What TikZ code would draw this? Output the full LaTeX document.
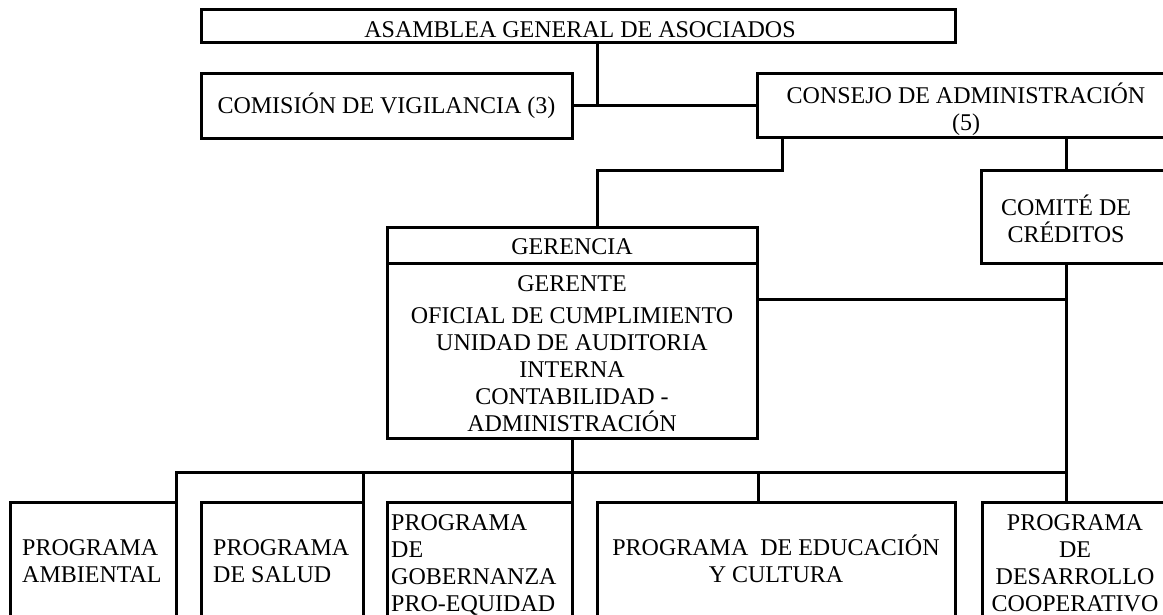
\documentclass[tikz,border=0pt]{standalone}
\usepackage{fontspec}
\setmainfont{Liberation Serif}
\newcommand\orgfont{\fontsize{24}{27}\selectfont}
\newcommand\orgfontb{\fontsize{24}{27}\selectfont}
\begin{document}
\begin{tikzpicture}[x=1pt,y=-1pt,
  box/.style={draw=black, line width=3pt, inner sep=0pt, outer sep=0pt, rectangle},
  conn/.style={draw=black, line width=3pt, line join=miter},
  txt/.style={inner sep=0pt, align=center, font=\orgfont},
  txtb/.style={inner sep=0pt, align=center, font=\orgfontb},
  txtl/.style={inner sep=0pt, align=left, font=\orgfontb}]
\useasboundingbox (0,0) rectangle (1163,614);
\fill[white] (0,0) rectangle (1163,614);
\clip (0,0) rectangle (1163,614);

% boxes
\node[box, minimum width=754pt, minimum height=33pt] (asamblea) at (578,25.5) {};
\node[box, minimum width=371pt, minimum height=65pt] (comision) at (386.5,105.5) {};
\node[box, minimum width=418pt, minimum height=64pt] (consejo) at (966,105) {};
\node[box, minimum width=199pt, minimum height=93pt] (comite) at (1080.5,216.5) {};
\node[box, minimum width=370pt, minimum height=36pt] (gerhead) at (572,245) {};
\node[box, minimum width=370pt, minimum height=175pt] (gerbody) at (572,350.5) {};
\node[box, minimum width=166pt, minimum height=138pt] (ambiental) at (93,571) {};
\node[box, minimum width=162pt, minimum height=138pt] (salud) at (282,571) {};
\node[box, minimum width=185pt, minimum height=138pt] (gob) at (479.5,571) {};
\node[box, minimum width=358pt, minimum height=138pt] (educ) at (776,571) {};
\node[box, minimum width=198pt, minimum height=138pt] (desarrollo) at (1081,571) {};

% texts
\node[txt] (t-asamblea) at (580,29.5) {ASAMBLEA GENERAL DE ASOCIADOS};
\node[txt] (t-comision) at (386.5,106) {COMISIÓN DE VIGILANCIA (3)};
\node[txt] (t-consejo) at (966,109) {CONSEJO DE ADMINISTRACIÓN\\(5)};
\node[txt] (t-comite) at (1066,218.5) {COMITÉ DE\\CRÉDITOS};
\node[txt] (t-gerhead) at (572,246.5) {GERENCIA};
\node[txt] (t-gerbody) at (572,354) {GERENTE\\[5pt]OFICIAL DE CUMPLIMIENTO\\UNIDAD DE AUDITORIA\\INTERNA\\CONTABILIDAD -\\ADMINISTRACIÓN};
\node[txtl, anchor=west] (t-ambiental) at (22,561) {PROGRAMA\\AMBIENTAL};
\node[txtl, anchor=west] (t-salud) at (213,561) {PROGRAMA\\DE SALUD};
\node[txtl, anchor=north west] (t-gob) at (391,514) {PROGRAMA\\DE\\GOBERNANZA\\PRO-EQUIDAD};
\node[txtb] (t-educ) at (776,558.5) {PROGRAMA \ DE EDUCACIÓN\\Y CULTURA};
\node[txtb, anchor=north] (t-desarrollo) at (1075,514) {PROGRAMA\\DE\\DESARROLLO\\COOPERATIVO};

% junction coordinates
\coordinate (jA) at (597,105);
\coordinate (jB) at (782,170);
\coordinate (jC) at (597,170);
\coordinate (jD) at (1066,472);
\coordinate (jE) at (1066,299);
\coordinate (jG) at (758,472);

% connectors
\draw[conn] (asamblea.south -| jA) -- (jA);
\draw[conn] (comision.east |- jA) -- (consejo.west |- jA);
\draw[conn] (consejo.south -| jB) -- (jB) -- (jC) -- (gerhead.north -| jC);
\draw[conn] (consejo.south -| jD) -- (comite.north -| jD);
\draw[conn] (comite.south -| jD) -- (desarrollo.north -| jD);
\draw[conn] (gerbody.east |- jE) -- (jE);
\draw[conn] (gerbody.south) -- (gob.north east);
\draw[conn] (ambiental.north east) -- (ambiental.north east |- jD) -- (jD);
\draw[conn] (salud.north east |- jD) -- (salud.north east);
\draw[conn] (jG) -- (educ.north -| jG);
\end{tikzpicture}
\end{document}
